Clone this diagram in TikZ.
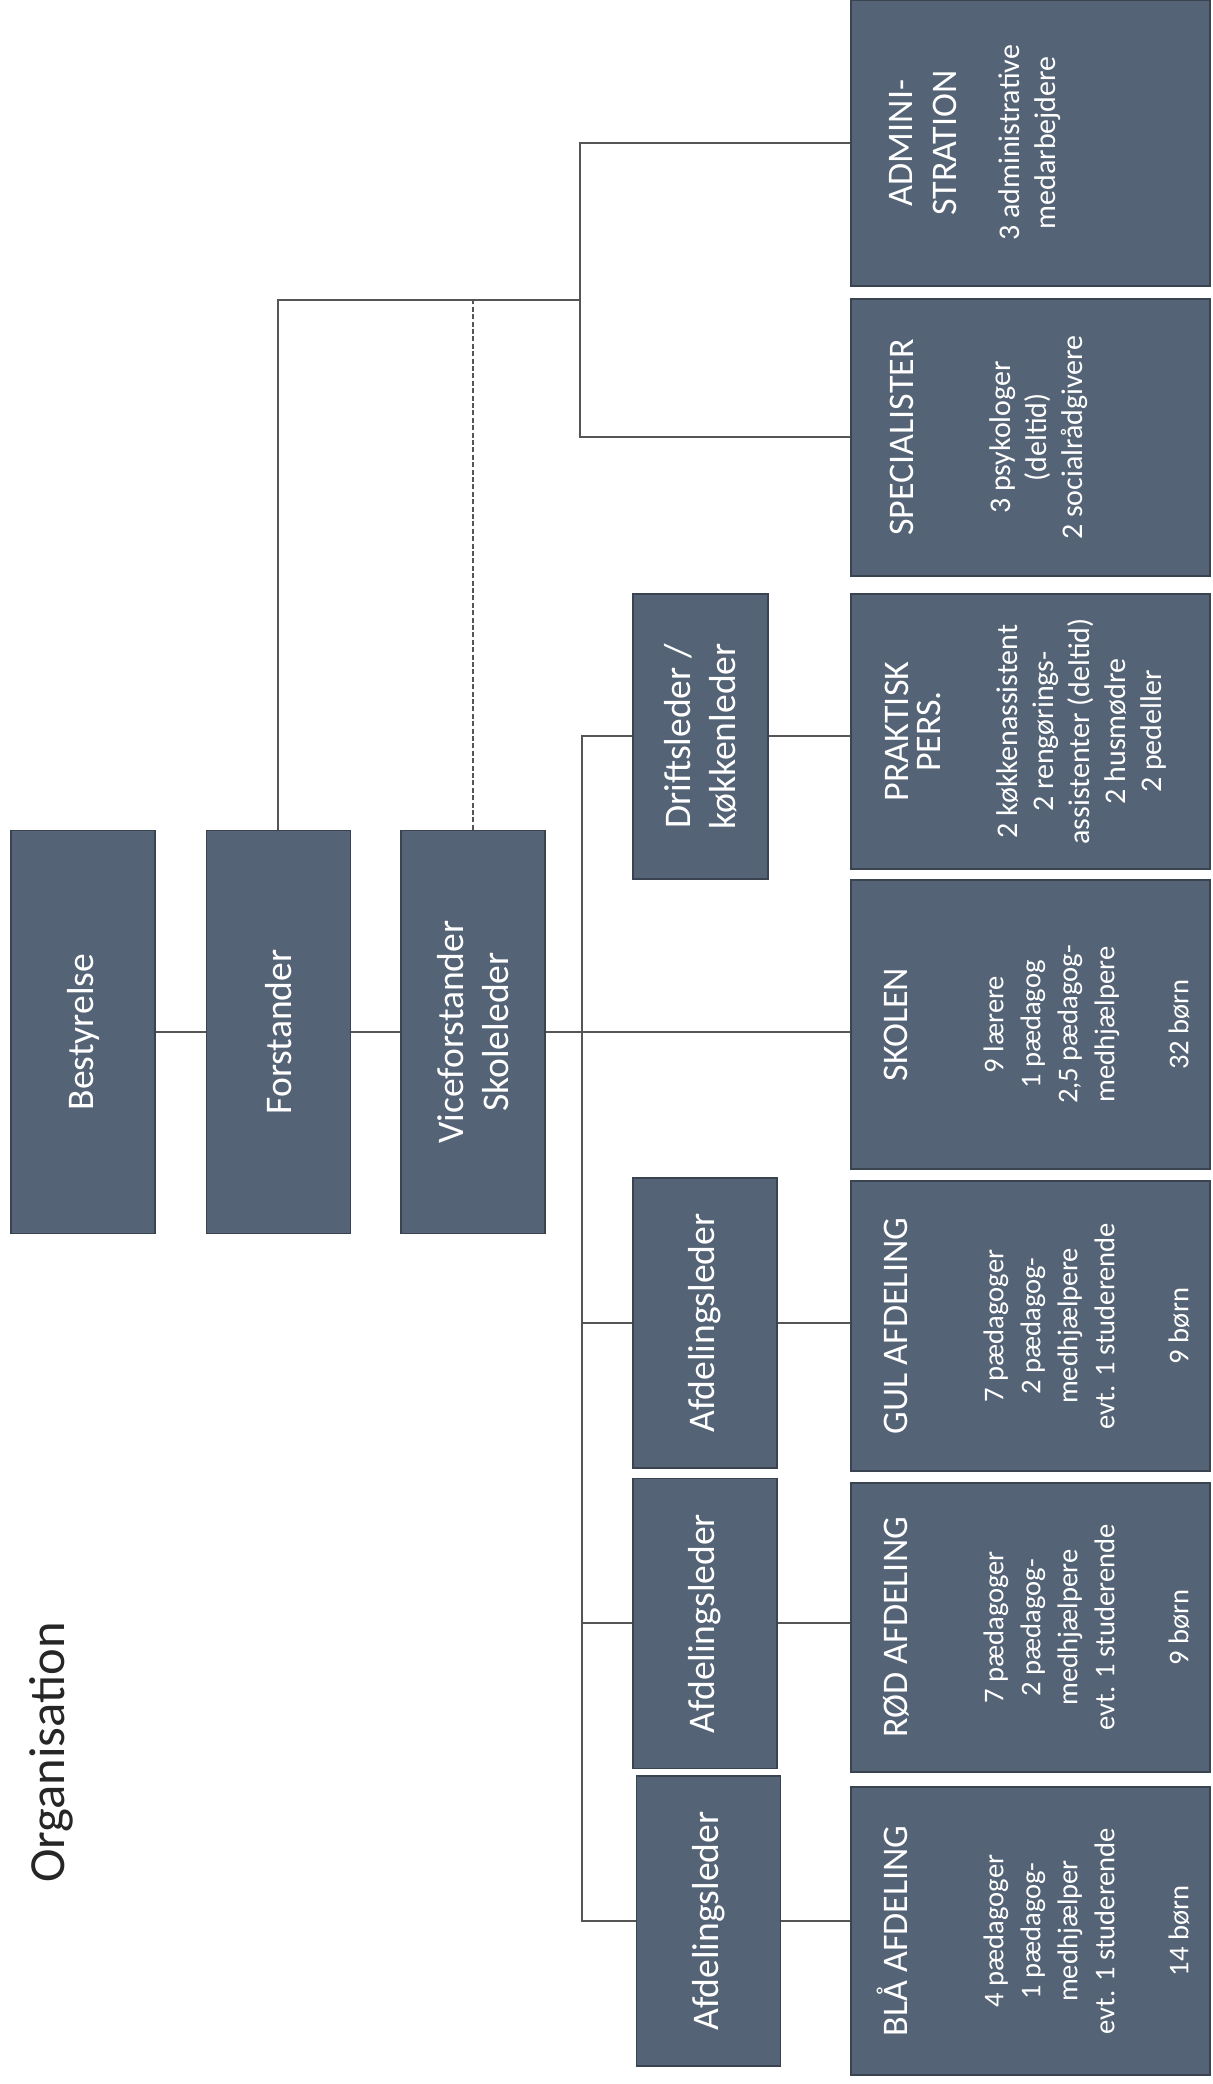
\documentclass[tikz,border=0pt]{standalone}
\usepackage{fontspec}
\setmainfont{Carlito}

\definecolor{boksblaa}{RGB}{84,99,117}
\definecolor{kant}{RGB}{58,68,80}
\definecolor{streg}{RGB}{85,85,85}

\newcommand{\hoved}{\fontsize{18}{22}\selectfont}
\newcommand{\brod}{\fontsize{14.3}{18.5}\selectfont}
\newcommand{\brodstor}{\fontsize{15}{18}\selectfont}

\tikzstyle{boks} = [rectangle, fill=boksblaa, draw=kant, line width=0.6pt, text=white, inner sep=0pt]
\tikzstyle{leder} = [boks, align=center, minimum width=145pt, minimum height=72pt, font=\fontsize{18.8}{22.5}\selectfont]
\tikzstyle{ledelse} = [leder, minimum width=201.5pt]
\tikzstyle{enhed} = [boks, minimum height=179.5pt]
\tikzstyle{linje} = [draw=streg, line width=1pt]

\begin{document}
\begin{tikzpicture}[x=0.5pt, y=0.5pt, rotate=90, transform shape]

\useasboundingbox (0,0) rectangle (2084,1213);

% Title
\node (titel) [anchor=base west, text=black!85, font=\fontsize{25.3}{30}\selectfont] at (194,1148) {Organisation};

% Define nodes
\node (best) [ledelse] at (1052,1130) {Bestyrelse};
\node (forst) [ledelse] at (1052,934.5) {Forstander};
\node (vice) [ledelse] at (1052,740) {Viceforstander\\Skoleleder};

\node (drift) [leder, minimum width=142.5pt, minimum height=67.5pt] at (1347.5,512.5) {Driftsleder /\\køkkenleder};
\node (gulleder) [leder] at (761,508) {Afdelingsleder};
\node (roedleder) [leder] at (460.5,508) {Afdelingsleder};
\node (blaaleder) [leder] at (163,504.5) {Afdelingsleder};

\node (admin) [enhed, minimum width=143pt] at (1941,182.5) {\parbox[c][179pt][t]{135pt}{\centering\hoved\rule{0pt}{30.5pt}ADMINI-\\STRATION\par\vspace{13.5pt}\brodstor 3 administrative\\medarbejdere}};
\node (spec) [enhed, minimum width=138.5pt] at (1646.5,182.5) {\parbox[c][179pt][t]{135pt}{\centering\hoved\rule{0pt}{31pt}SPECIALISTER\par\vspace{30.5pt}\brodstor 3 psykologer\\(deltid)\\2 socialrådgivere}};
\node (prakt) [enhed, minimum width=137.5pt] at (1352.5,182.5) {\parbox[c][179pt][t]{135pt}{\centering\hoved\rule{0pt}{28.5pt}PRAKTISK\\[-6pt]PERS.\par\vspace{20.5pt}\brodstor 2 køkkenassistent\\2 rengørings-\\assistenter (deltid)\\2 husmødre\\2 pedeller}};
\node (skolen) [enhed, minimum width=144.5pt] at (1059.5,182.5) {\parbox[c][179pt][t]{135pt}{\centering\hoved\rule{0pt}{28pt}SKOLEN\par\vspace{29.5pt}\brod 9 lærere\\1 pædagog\\2,5 pædagog-\\medhjælpere\\[18.5pt]32 børn}};
\node (gul) [enhed, minimum width=145pt] at (758,182.5) {\parbox[c][179pt][t]{135pt}{\centering\hoved\rule{0pt}{28pt}GUL AFDELING\par\vspace{29.5pt}\brod 7 pædagoger\\2 pædagog-\\medhjælpere\\evt. 1 studerende\\[18.5pt]9 børn}};
\node (roed) [enhed, minimum width=144.5pt] at (456.5,182.5) {\parbox[c][179pt][t]{135pt}{\centering\hoved\rule{0pt}{28pt}RØD AFDELING\par\vspace{29.5pt}\brod 7 pædagoger\\2 pædagog-\\medhjælpere\\evt. 1 studerende\\[18.5pt]9 børn}};
\node (blaa) [enhed, minimum width=144pt] at (153,182.5) {\parbox[c][179pt][t]{135pt}{\centering\hoved\rule{0pt}{28pt}BLÅ AFDELING\par\vspace{29.5pt}\brod 4 pædagoger\\1 pædagog-\\medhjælper\\evt. 1 studerende\\[18.5pt]14 børn}};

\coordinate (topjoin) at (1784,633);
\coordinate (lowbus) at (0,631);

% Draw lines
\draw [linje] (best.south) -- (forst.north);
\draw [linje] (forst.south) -- (vice.north);
\draw [linje] (vice.south) -- (vice.south |- skolen.north);
\draw [linje] (forst.east) -| (topjoin);
\draw [linje, dashed, dash pattern=on 2.5pt off 1.2pt] (vice.east) -- (vice.east -| topjoin);
\draw [linje] (spec.north) -- (spec.north |- topjoin) -- (admin.north |- topjoin) -- (admin.north);
\draw [linje] (drift.north) -- (drift.north |- lowbus) -- (blaaleder.north |- lowbus) -- (blaaleder.north);
\draw [linje] (gulleder.north) -- (gulleder.north |- lowbus);
\draw [linje] (roedleder.north) -- (roedleder.north |- lowbus);
\draw [linje] (drift.south) -- (drift.south |- prakt.north);
\draw [linje] (gulleder.south) -- (gulleder.south |- gul.north);
\draw [linje] (roedleder.south) -- (roedleder.south |- roed.north);
\draw [linje] (blaaleder.south) -- (blaaleder.south |- blaa.north);

\end{tikzpicture}
\end{document}
